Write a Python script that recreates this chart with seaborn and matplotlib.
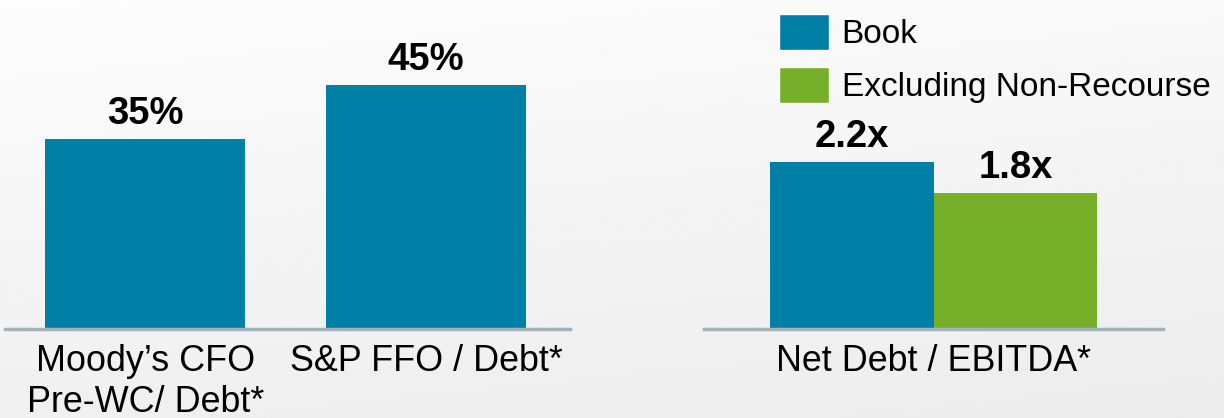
import matplotlib
matplotlib.use('Agg')
import numpy as np
import pandas as pd
import matplotlib.pyplot as plt
import seaborn as sns
from matplotlib.patches import Patch

# Chart data
ratings_labels = ["Moody’s CFO\nPre-WC/ Debt*", "S&P FFO / Debt*"]
ratings_values = [35, 45]
leverage_label = ["Net Debt / EBITDA*"]
leverage_series = ["Book", "Excluding Non-Recourse"]
leverage_values = [2.2, 1.8]

blue = '#0080A7'
green = '#76B02A'
axis_gray = '#A3B1BA'

sns.set_theme(style='white')
plt.rcParams['font.family'] = ['Liberation Sans', 'DejaVu Sans']

fig = plt.figure(figsize=(12.24, 4.18), dpi=100)

# soft gray gradient background
bg = fig.add_axes([0, 0, 1, 1], zorder=-10)
yy, xx = np.mgrid[0:1:200j, 0:1:400j]
shade = 0.99 - 0.05 * yy - 0.015 * xx
bg.imshow(shade, cmap='gray', vmin=0, vmax=1, aspect='auto', extent=[0, 1, 0, 1])
bg.axis('off')

ax1 = fig.add_axes([5 / 1224, 89 / 418, 565 / 1224, 329 / 418])
ax2 = fig.add_axes([704 / 1224, 89 / 418, 459 / 1224, 329 / 418])

df1 = pd.DataFrame({'metric': ratings_labels, 'value': ratings_values})
sns.barplot(data=df1, x='metric', y='value', color=blue, width=0.713,
            saturation=1, linewidth=0, ax=ax1)
ax1.set_xlim(-0.5, 1.513)
ax1.set_ylim(0, 60.6)
ax1.bar_label(ax1.containers[0], labels=[f"{v}%" for v in ratings_values],
              padding=5, fontsize=27.5, fontweight='bold', color='black')

df2 = pd.DataFrame({'metric': leverage_label * 2, 'series': leverage_series,
                    'value': leverage_values})
sns.barplot(data=df2, x='metric', y='value', hue='series', hue_order=leverage_series,
            palette=[blue, green], saturation=1, width=0.8, linewidth=0,
            legend=False, ax=ax2)
ax2.set_xlim(-0.561, 0.561)
ax2.set_ylim(0, 4.34)
for cont, v in zip(ax2.containers, leverage_values):
    ax2.bar_label(cont, labels=[f"{v}x"], padding=5, fontsize=27.5,
                  fontweight='bold', color='black')

for ax in (ax1, ax2):
    ax.set_facecolor('none')
    for side in ('top', 'left', 'right'):
        ax.spines[side].set_visible(False)
    ax.spines['bottom'].set_color(axis_gray)
    ax.spines['bottom'].set_linewidth(2.5)
    ax.set_yticks([])
    ax.set_xlabel('')
    ax.set_ylabel('')
    ax.tick_params(axis='x', length=0, pad=11, labelsize=25.8, labelcolor='black')

handles = [Patch(facecolor=blue), Patch(facecolor=green)]
fig.legend(handles, leverage_series, loc='upper left',
           bbox_to_anchor=(779 / 1224, 1 - 14 / 418), frameon=False,
           fontsize=24, handlelength=1.5, handleheight=1.28, labelcolor='black',
           handletextpad=0.38, labelspacing=0.5, borderpad=0, borderaxespad=0)

fig.savefig('out.png', dpi=100)
